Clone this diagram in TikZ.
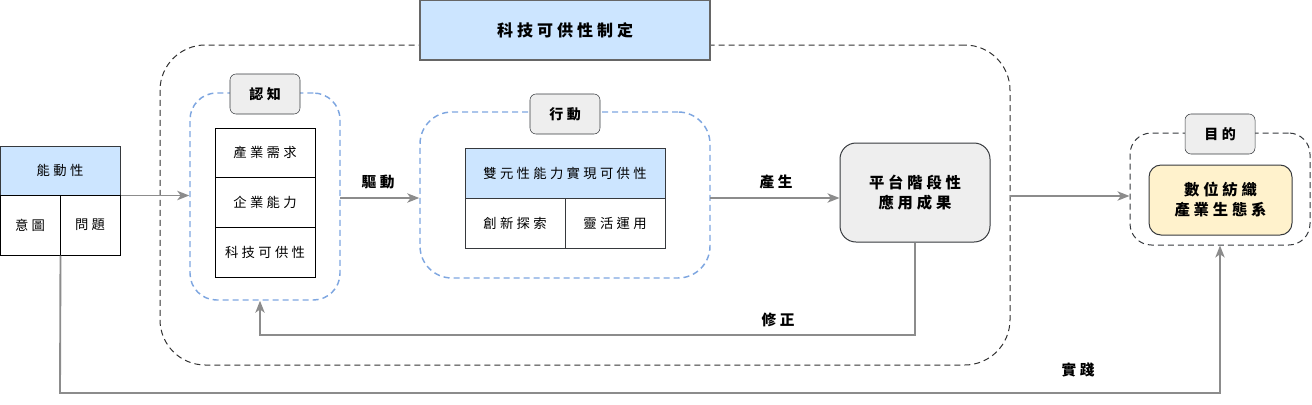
\documentclass[tikz,border=0pt]{standalone}
\usepackage{fontspec}
\setmainfont{Noto Sans CJK TC}[LetterSpace=25]
\usetikzlibrary{arrows.meta}
\newcommand\pxu{*0.75pt}
\definecolor{bluefill}{HTML}{CCE5FF}
\definecolor{bluedash}{HTML}{7EA6E0}
\definecolor{grayfill}{HTML}{EEEEEE}
\definecolor{darkline}{HTML}{36393D}
\definecolor{yellowfill}{HTML}{FFF2CC}
\definecolor{arrowgray}{HTML}{8C8C8C}
\tikzset{
  reg/.style={font=\fontsize{10}{12}\selectfont},
  bigb/.style={font=\fontsize{11.5}{15}\selectfont\bfseries, align=center},
  cell/.style={draw=black, line width=0.75pt, inner sep=0pt, reg},
  bluecell/.style={cell, fill=bluefill, draw=darkline},
  grp/.style={draw=bluedash, dashed, dash pattern=on 4.5pt off 3pt, line width=1.1pt, inner sep=0pt},
  tag/.style={draw=darkline, fill=grayfill, rounded corners=6\pxu, minimum width=70\pxu, minimum height=40\pxu, inner sep=0pt, font=\fontsize{10.5}{12}\selectfont\bfseries},
  conn/.style={draw=arrowgray, line width=1.4pt, -{Stealth[length=9pt,width=7pt,inset=2.5pt]}},
  lbl/.style={font=\fontsize{11}{13}\selectfont\bfseries, inner sep=0pt},
}
\begin{document}
\begin{tikzpicture}[x=0.75pt,y=-0.75pt]
\useasboundingbox (0,0) rectangle (1312,404);
% outer dashed frame
\node[draw=black!80, dashed, dash pattern=on 4.5pt off 3pt, line width=0.75pt, rounded corners=34pt, minimum width=850\pxu, minimum height=320\pxu, inner sep=0pt] (outer) at (585,205) {};
\node[draw=black!60, fill=bluefill, line width=0.9pt, minimum width=290\pxu, minimum height=60\pxu, inner sep=0pt, font=\fontsize{12}{14}\selectfont\bfseries] (title) at (565,30) {科技可供性制定};
% agency table
\node[bluecell, minimum width=120\pxu, minimum height=49\pxu] (nd) at (60,170.5) {能動性};
\node[cell, minimum width=60\pxu, minimum height=60\pxu] (ny) at (30,225) {意圖};
\node[cell, minimum width=60\pxu, minimum height=60\pxu] (nw) at (90,225) {問題};
% cognition group
\node[grp, rounded corners=20pt, minimum width=150\pxu, minimum height=207\pxu] (g1) at (265,196.5) {};
\node[tag, fill=grayfill] (t1) at (265,94) {認知};
\node[cell, minimum width=100\pxu, minimum height=49\pxu] (c1) at (265,152.5) {產業需求};
\node[cell, minimum width=100\pxu, minimum height=50\pxu] (c2) at (265,202) {企業能力};
\node[cell, minimum width=100\pxu, minimum height=50\pxu] (c3) at (265,252) {科技可供性};
% action group
\node[grp, rounded corners=24pt, minimum width=290\pxu, minimum height=166\pxu] (g2) at (565,195) {};
\node[tag] (t2) at (565,114) {行動};
\node[bluecell, minimum width=200\pxu, minimum height=50\pxu] (a0) at (565,173) {雙元性能力實現可供性};
\node[cell, draw=darkline, minimum width=100\pxu, minimum height=50\pxu] (a1) at (515,223) {創新探索};
\node[cell, draw=darkline, minimum width=100\pxu, minimum height=50\pxu] (a2) at (615,223) {靈活運用};
% platform result
\node[draw=darkline, fill=grayfill, line width=0.75pt, rounded corners=12pt, minimum width=150\pxu, minimum height=99\pxu, inner sep=0pt, bigb] (plat) at (915,192.5) {平台階段性\\應用成果};
% goal group
\node[draw=darkline, dashed, dash pattern=on 4.5pt off 3pt, line width=0.75pt, rounded corners=16pt, minimum width=180\pxu, minimum height=112\pxu, inner sep=0pt] (goal) at (1220,189) {};
\node[tag] (t3) at (1220,134) {目的};
\node[draw=darkline, fill=yellowfill, line width=0.75pt, rounded corners=9pt, minimum width=143\pxu, minimum height=70\pxu, inner sep=0pt, bigb] (eco) at (1220.5,200) {數位紡織\\產業生態系};
% connectors
\draw[conn] (nd.south east) -- (nd.south east -| g1.west);
\coordinate (d1) at (340,198);
\draw[conn] (d1) -- (d1 -| g2.west);
\node[lbl] (l1) at (378,182) {驅動};
\coordinate (d2) at (710,198);
\draw[conn] (d2) -- (d2 -| plat.west);
\node[lbl] (l2) at (776,182) {產生};
\coordinate (k1) at (915,335);
\coordinate (k2) at (260,335);
\draw[conn] (plat.south) -- (k1) -- (k2) -- (k2 |- g1.south);
\node[lbl] (l3) at (778,320) {修正};
\coordinate (d3) at (1010,196);
\draw[conn] (d3) -- (d3 -| goal.west);
\coordinate (p1) at (60,393);
\coordinate (p2) at (1220,393);
\draw[conn] (ny.south east) -- (p1) -- (p2) -- (goal.south);
\node[lbl] (l4) at (1078,370) {實踐};
\end{tikzpicture}
\end{document}
